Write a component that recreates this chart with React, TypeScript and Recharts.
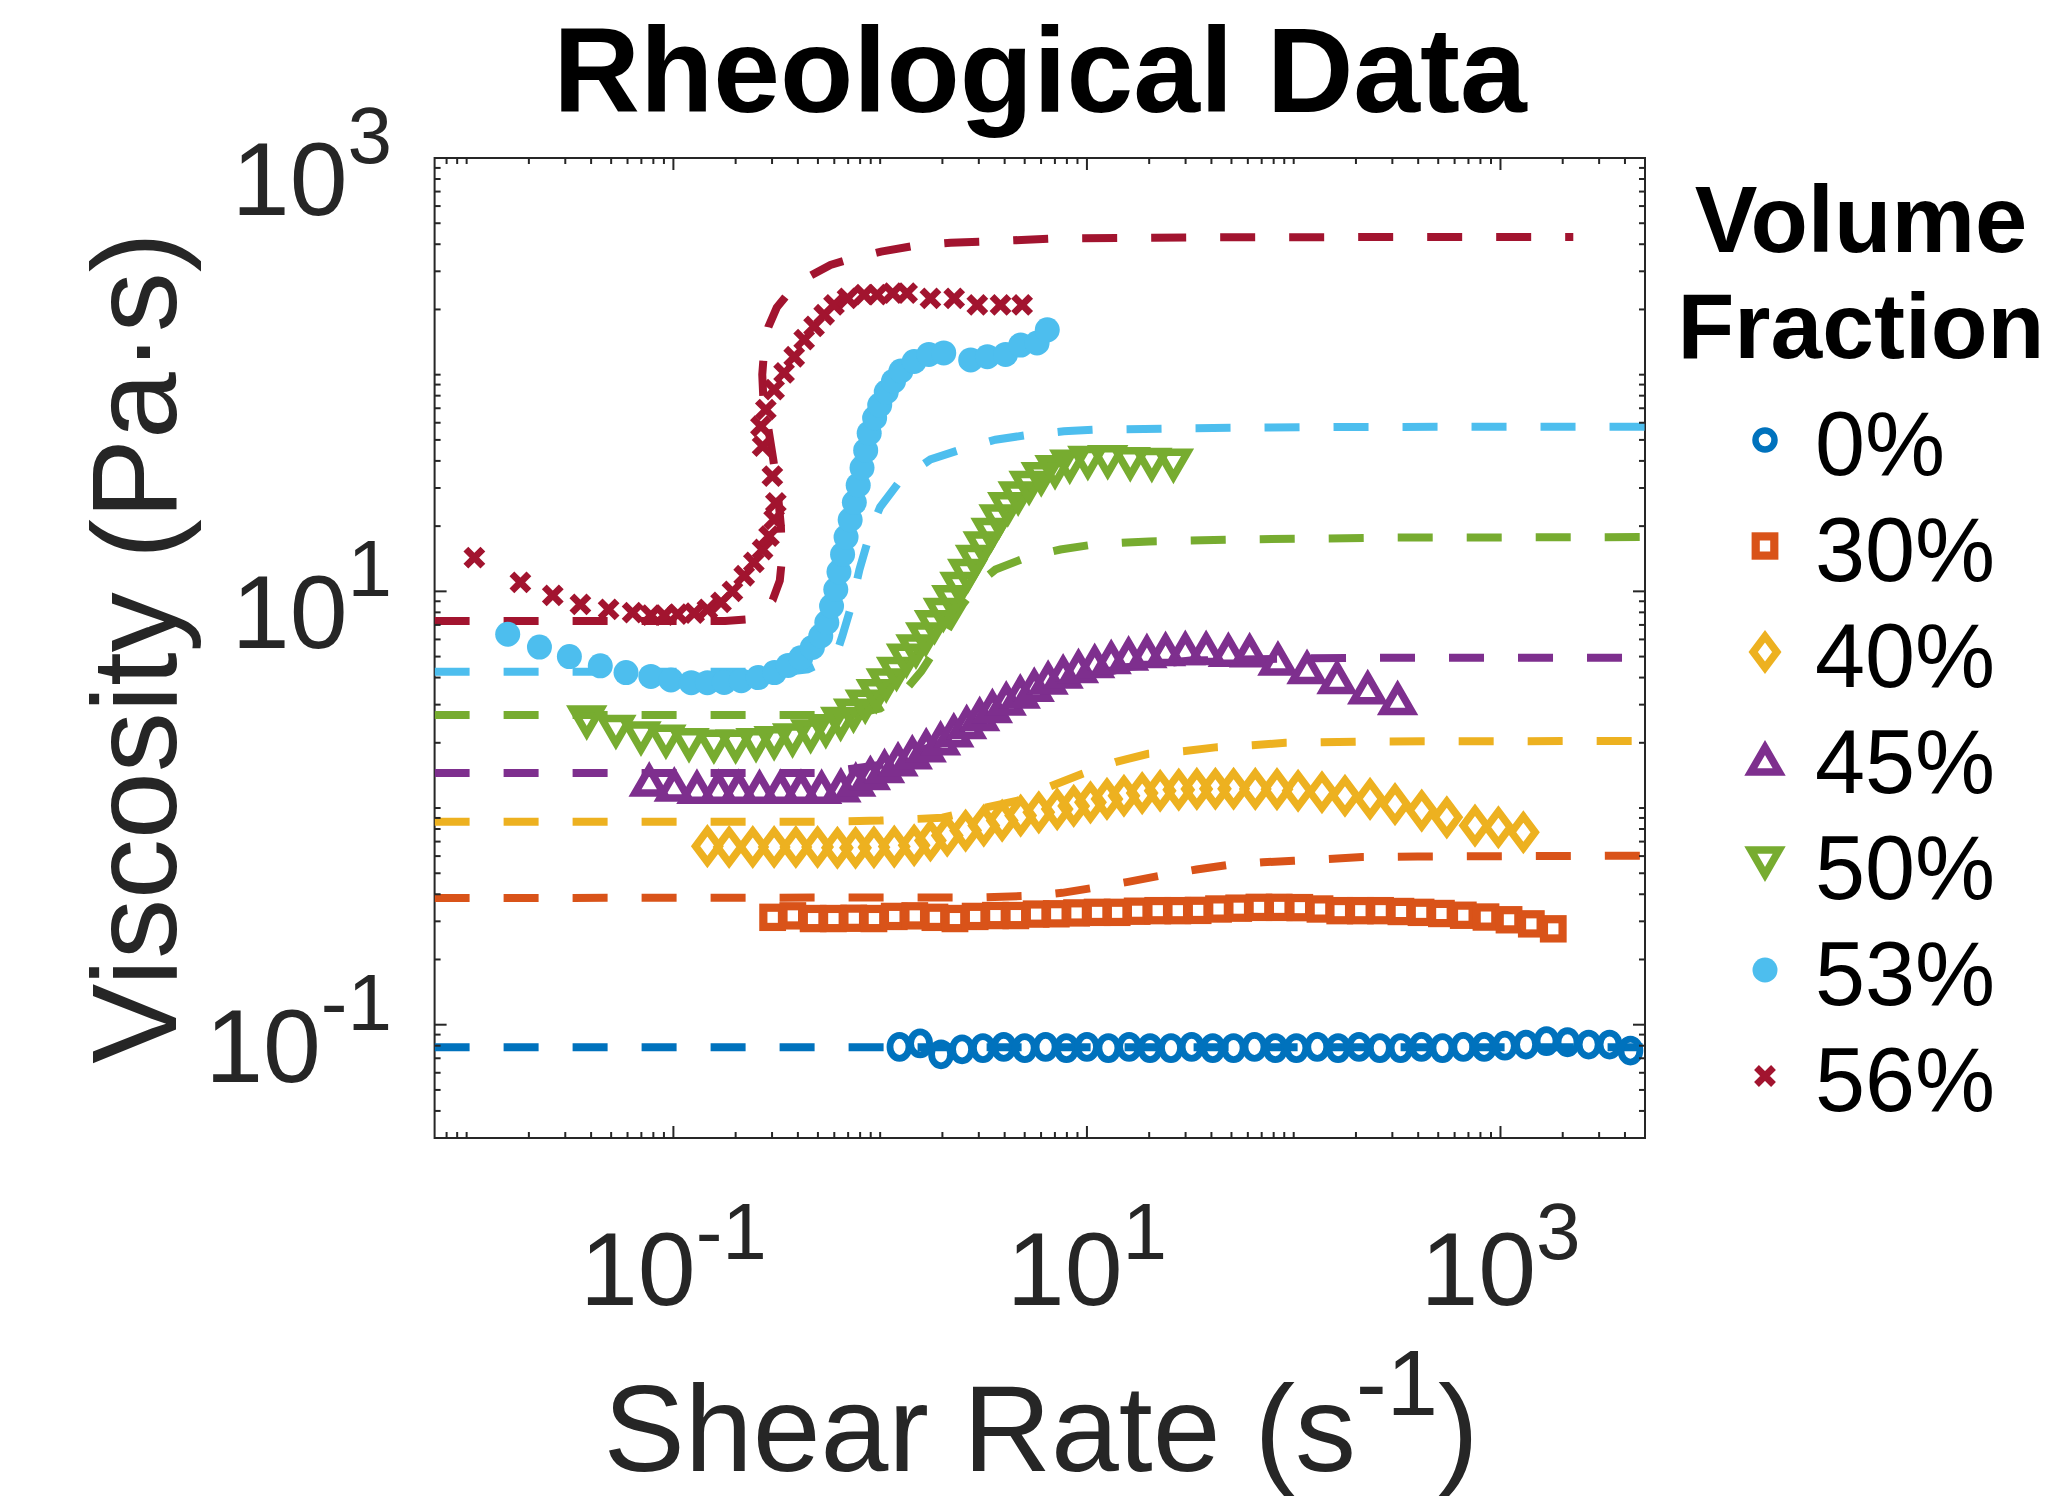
import React from 'react';
import { ComposedChart, XAxis, YAxis, Scatter, Line, ReferenceArea, Customized } from 'recharts';

const CHART_W = 2047;
const CHART_H = 1506;
const PLOT = { left: 434.6, right: 1645, top: 158, bottom: 1138 };
const FONT = '"Liberation Sans", Arial, Helvetica, sans-serif';
const INK = '#262626';

const categories = ['0%', '30%', '40%', '45%', '50%', '53%', '56%'];
const colors = ['#0072BD', '#D95319', '#EDB120', '#7E2F8E', '#77AC30', '#4DBEEE', '#A2142F'];
const markerKinds = ['o', 's', 'd', '^', 'v', '.', 'x'];

// ---- measured data (shear rate, viscosity) ----
const rate0 = [1.24, 1.56, 1.97, 2.49, 3.14, 3.96, 5.0, 6.31, 7.96, 10.0, 12.7, 16.0, 20.2, 25.5, 32.1, 40.6, 51.2, 64.6, 81.5, 103, 130, 164, 207, 261, 329, 415, 524, 661, 834, 1050, 1330, 1670, 2110, 2670, 3370, 4250];
const visc0 = [0.079, 0.082, 0.073, 0.077, 0.078, 0.079, 0.078, 0.079, 0.078, 0.079, 0.078, 0.079, 0.078, 0.078, 0.079, 0.078, 0.078, 0.079, 0.078, 0.078, 0.079, 0.078, 0.079, 0.078, 0.078, 0.079, 0.078, 0.079, 0.079, 0.080, 0.081, 0.084, 0.083, 0.081, 0.081, 0.076];

const rate30 = [0.302, 0.378, 0.474, 0.594, 0.745, 0.933, 1.17, 1.47, 1.84, 2.30, 2.88, 3.61, 4.53, 5.68, 7.11, 8.91, 11.2, 14.0, 17.5, 22.0, 27.5, 34.5, 43.3, 54.2, 67.9, 85.1, 107, 134, 167, 210, 263, 330, 413, 518, 661, 851, 1100, 1410, 1800];
const visc30 = [0.313, 0.318, 0.309, 0.309, 0.310, 0.309, 0.316, 0.318, 0.313, 0.309, 0.316, 0.319, 0.319, 0.324, 0.325, 0.328, 0.330, 0.330, 0.334, 0.336, 0.336, 0.337, 0.342, 0.345, 0.348, 0.348, 0.347, 0.342, 0.336, 0.336, 0.336, 0.333, 0.330, 0.326, 0.320, 0.314, 0.305, 0.292, 0.277];

const rate40 = [0.146, 0.186, 0.242, 0.307, 0.391, 0.498, 0.621, 0.760, 0.933, 1.17, 1.46, 1.75, 2.11, 2.59, 3.17, 3.89, 4.78, 5.85, 7.18, 8.63, 10.4, 12.5, 15.1, 18.5, 22.6, 27.8, 34.0, 41.8, 51.2, 65.2, 83.0, 105, 137, 177, 234, 309, 416, 550, 753, 977, 1290];
const visc40 = [0.667, 0.661, 0.661, 0.661, 0.661, 0.661, 0.656, 0.656, 0.659, 0.664, 0.673, 0.708, 0.746, 0.787, 0.830, 0.875, 0.923, 0.955, 0.989, 1.023, 1.062, 1.102, 1.140, 1.172, 1.202, 1.216, 1.225, 1.227, 1.227, 1.225, 1.222, 1.202, 1.183, 1.140, 1.102, 1.042, 0.973, 0.906, 0.830, 0.815, 0.773];

const rate45 = [0.0764, 0.101, 0.130, 0.165, 0.207, 0.261, 0.329, 0.414, 0.521, 0.646, 0.762, 0.897, 1.05, 1.22, 1.43, 1.67, 1.96, 2.27, 2.62, 3.03, 3.49, 4.07, 4.76, 5.56, 6.49, 7.67, 9.10, 10.9, 13.1, 15.9, 19.5, 24.0, 29.9, 37.7, 48.3, 61.2, 83.9, 116, 162, 228, 318];
const visc45 = [1.36, 1.29, 1.26, 1.26, 1.26, 1.26, 1.26, 1.26, 1.26, 1.28, 1.36, 1.46, 1.57, 1.69, 1.82, 1.96, 2.11, 2.30, 2.51, 2.73, 2.97, 3.22, 3.47, 3.73, 4.02, 4.29, 4.55, 4.80, 5.01, 5.20, 5.33, 5.45, 5.51, 5.51, 5.41, 5.38, 4.93, 4.50, 4.05, 3.63, 3.24];

const rate50 = [0.0381, 0.0527, 0.0697, 0.0920, 0.119, 0.157, 0.200, 0.251, 0.307, 0.377, 0.461, 0.546, 0.644, 0.743, 0.847, 0.957, 1.07, 1.20, 1.34, 1.49, 1.66, 1.83, 2.02, 2.22, 2.43, 2.65, 2.89, 3.15, 3.44, 3.76, 4.14, 4.65, 5.25, 6.01, 7.01, 8.26, 10.1, 12.6, 16.2, 20.6, 26.2];
const visc50 = [2.47, 2.23, 2.08, 2.01, 1.94, 1.91, 1.91, 1.94, 1.98, 2.04, 2.13, 2.25, 2.43, 2.65, 2.92, 3.26, 3.66, 4.13, 4.76, 5.25, 5.96, 6.79, 7.73, 8.87, 10.2, 11.7, 13.6, 15.7, 18.1, 20.9, 23.8, 26.7, 29.8, 32.7, 35.3, 37.4, 38.9, 39.2, 38.4, 38.1, 37.8];

const rate53 = [0.0158, 0.0225, 0.0314, 0.0443, 0.0590, 0.0778, 0.0973, 0.122, 0.146, 0.176, 0.213, 0.257, 0.308, 0.359, 0.413, 0.470, 0.516, 0.552, 0.582, 0.610, 0.632, 0.658, 0.684, 0.716, 0.750, 0.783, 0.817, 0.851, 0.885, 0.940, 0.995, 1.07, 1.16, 1.26, 1.46, 1.72, 2.03, 2.74, 3.30, 4.04, 4.78, 5.74, 6.43];
const visc53 = [6.34, 5.53, 5.00, 4.53, 4.22, 4.05, 3.90, 3.79, 3.79, 3.80, 3.87, 4.00, 4.22, 4.55, 4.94, 5.51, 6.22, 7.18, 8.55, 10.2, 12.3, 14.8, 17.8, 21.4, 25.7, 30.9, 37.2, 44.7, 53.7, 63.1, 72.4, 83.2, 93.3, 104, 115, 124, 126, 117, 121, 124, 137, 140, 161];

const rate56 = [0.0109, 0.0182, 0.0261, 0.0355, 0.0486, 0.0635, 0.0778, 0.0904, 0.105, 0.126, 0.146, 0.170, 0.193, 0.220, 0.245, 0.270, 0.290, 0.307, 0.313, 0.301, 0.270, 0.265, 0.280, 0.307, 0.343, 0.384, 0.429, 0.479, 0.536, 0.598, 0.695, 0.836, 0.968, 1.15, 1.35, 1.75, 2.28, 2.95, 3.82, 4.86];
const visc56 = [14.3, 11.0, 9.59, 8.71, 8.26, 7.98, 7.76, 7.76, 7.85, 7.94, 8.26, 8.89, 10.0, 11.8, 13.6, 15.6, 18.0, 21.5, 25.6, 34.0, 46.8, 57.8, 69.0, 85.3, 102, 121, 145, 167, 189, 210, 225, 234, 234, 238, 238, 225, 225, 210, 210, 210];

// ---- model fits (dashed) ----
const fitRate0 = [0.007, 5000];
const fitVisc0 = [0.0787, 0.0787];

const fitRate30 = [0.007, 3.16, 5.62, 7.59, 10.7, 15.8, 22.4, 33.9, 49.0, 70.8, 100, 148, 214, 398, 5000];
const fitVisc30 = [0.384, 0.387, 0.394, 0.406, 0.428, 0.456, 0.486, 0.520, 0.547, 0.562, 0.571, 0.582, 0.594, 0.597, 0.603];

const fitRate40 = [0.007, 0.501, 1.0, 2.0, 3.31, 4.62, 6.67, 9.51, 13.7, 19.8, 29.2, 42.7, 63.1, 91.2, 251, 5000];
const fitVisc40 = [0.865, 0.865, 0.875, 0.902, 1.01, 1.08, 1.26, 1.44, 1.63, 1.78, 1.83, 1.91, 1.95, 2.00, 2.03, 2.04];

const fitRate45 = [0.007, 0.501, 1.0, 2.0, 3.98, 7.94, 15.8, 31.6, 100, 251, 5000];
const fitVisc45 = [1.45, 1.45, 1.58, 2.00, 2.82, 3.80, 4.47, 4.79, 4.90, 4.94, 4.94];

const fitRate50 = [0.007, 0.501, 0.794, 1.0, 1.26, 1.58, 2.0, 2.51, 3.02, 3.61, 5.16, 7.45, 11.0, 20.0, 63.1, 316, 5000];
const fitVisc50 = [2.69, 2.69, 2.75, 2.88, 3.31, 4.27, 6.03, 8.71, 11.0, 12.6, 14.4, 15.6, 16.5, 17.0, 17.4, 17.7, 17.8];

const fitRate53 = [0.007, 0.355, 0.447, 0.525, 0.589, 0.631, 0.656, 0.721, 0.794, 0.871, 0.933, 1.0, 1.26, 1.75, 2.45, 3.61, 5.24, 7.73, 11.2, 31.6, 158, 5000];
const fitVisc53 = [4.25, 4.25, 4.37, 4.68, 5.13, 5.56, 6.22, 8.41, 12.6, 17.1, 20.9, 24.5, 32.8, 40.6, 45.1, 50.1, 52.8, 54.8, 55.8, 56.6, 57.4, 57.5];

const fitRate56 = [0.007, 0.178, 0.224, 0.263, 0.302, 0.327, 0.335, 0.331, 0.320, 0.305, 0.288, 0.272, 0.269, 0.274, 0.288, 0.316, 0.363, 0.447, 0.575, 0.695, 1.01, 1.48, 2.19, 3.16, 6.92, 31.6, 316, 2250];
const fitVisc56 = [7.29, 7.29, 7.41, 7.94, 9.12, 11.2, 14.1, 20.0, 28.2, 39.8, 56.2, 79.4, 100, 126, 166, 204, 240, 282, 321, 339, 370, 394, 406, 411, 425, 430, 432, 432];

// ---- axis ticks ----
const xTickValues = [0.008, 0.009, 0.01, 0.02, 0.03, 0.04, 0.05, 0.06, 0.07, 0.08, 0.09, 0.1, 0.2, 0.3, 0.4, 0.5, 0.6, 0.7, 0.8, 0.9, 1, 2, 3, 4, 5, 6, 7, 8, 9, 10, 20, 30, 40, 50, 60, 70, 80, 90, 100, 200, 300, 400, 500, 600, 700, 800, 900, 1000, 2000, 3000, 4000];
const yTickValues = [0.04, 0.05, 0.06, 0.07, 0.08, 0.09, 0.1, 0.2, 0.3, 0.4, 0.5, 0.6, 0.7, 0.8, 0.9, 1, 2, 3, 4, 5, 6, 7, 8, 9, 10, 20, 30, 40, 50, 60, 70, 80, 90, 100, 200, 300, 400, 500, 600, 700, 800, 900, 1000];
const majorTicks = [0.1, 10, 1000];
const majorExponents = ['-1', '1', '3'];

const zip = (xs: number[], ys: number[]) => xs.map((x, i) => ({ x, y: ys[i] }));

const dataSets = [zip(rate0, visc0), zip(rate30, visc30), zip(rate40, visc40), zip(rate45, visc45), zip(rate50, visc50), zip(rate53, visc53), zip(rate56, visc56)];
const fitSets = [zip(fitRate0, fitVisc0), zip(fitRate30, fitVisc30), zip(fitRate40, fitVisc40), zip(fitRate45, fitVisc45), zip(fitRate50, fitVisc50), zip(fitRate53, fitVisc53), zip(fitRate56, fitVisc56)];

function Marker({ kind, cx, cy, color, legend }: { kind: string; cx: number; cy: number; color: string; legend?: boolean }) {
  if (cx == null || cy == null || isNaN(cx) || isNaN(cy)) return null;
  switch (kind) {
    case 'o':
      return legend
        ? <circle cx={cx} cy={cy} r={9.5} fill="none" stroke={color} strokeWidth={6.5} />
        : <ellipse cx={cx} cy={cy} rx={9.5} ry={11.5} fill="none" stroke={color} strokeWidth={6.8} />;
    case 's':
      return <rect x={cx - 9.3} y={cy - 9.6} width={18.6} height={19.2} fill="none" stroke={color} strokeWidth={8.2} />;
    case 'd':
      return <path d={`M${cx},${cy - 15.8}L${cx + 11.8},${cy}L${cx},${cy + 15.8}L${cx - 11.8},${cy}Z`} fill="none" stroke={color} strokeWidth={7.5} strokeLinejoin="miter" />;
    case '^':
      return <path d={`M${cx},${cy - 10.5}L${cx + 14.2},${cy + 14}L${cx - 14.2},${cy + 14}Z`} fill="none" stroke={color} strokeWidth={7.5} strokeLinejoin="miter" />;
    case 'v':
      return <path d={`M${cx},${cy + 10.5}L${cx + 14.2},${cy - 14}L${cx - 14.2},${cy - 14}Z`} fill="none" stroke={color} strokeWidth={7.5} strokeLinejoin="miter" />;
    case '.':
      return <circle cx={cx} cy={cy} r={12.5} fill={color} />;
    case 'x':
      return <path d={`M${cx - 8.5},${cy - 8.5}L${cx + 8.5},${cy + 8.5}M${cx - 8.5},${cy + 8.5}L${cx + 8.5},${cy - 8.5}`} stroke={color} strokeWidth={6.8} fill="none" />;
    default:
      return null;
  }
}

function XTick(props: any) {
  const { x, payload } = props;
  const v = payload.value;
  const mi = majorTicks.indexOf(v);
  const len = mi >= 0 ? 12 : 6;
  return (
    <g>
      <line x1={x} x2={x} y1={PLOT.bottom} y2={PLOT.bottom - len} stroke={INK} strokeWidth={2} />
      <line x1={x} x2={x} y1={PLOT.top} y2={PLOT.top + len} stroke={INK} strokeWidth={2} />
      {mi >= 0 && (
        <text x={x} y={1305} textAnchor="middle" fontFamily={FONT} fontSize={104} fill={INK}>
          10<tspan dy={-46} fontSize={80}>{majorExponents[mi]}</tspan>
        </text>
      )}
    </g>
  );
}

function YTick(props: any) {
  const { y, payload } = props;
  const v = payload.value;
  const mi = majorTicks.indexOf(v);
  const len = mi >= 0 ? 12 : 6;
  return (
    <g>
      <line x1={PLOT.left} x2={PLOT.left + len} y1={y} y2={y} stroke={INK} strokeWidth={2} />
      <line x1={PLOT.right} x2={PLOT.right - len} y1={y} y2={y} stroke={INK} strokeWidth={2} />
      {mi >= 0 && (
        <text x={392} y={y + 57} textAnchor="end" fontFamily={FONT} fontSize={104} fill={INK}>
          10<tspan dy={-52} fontSize={80}>{majorExponents[mi]}</tspan>
        </text>
      )}
    </g>
  );
}

function Annotations() {
  const legendTop = 440;
  const legendStep = 106;
  return (
    <g fontFamily={FONT}>
      <text x={1040} y={112} textAnchor="middle" fontSize={120} fontWeight="bold" fill="#000">
        Rheological Data
      </text>
      <text transform="translate(176,648) rotate(-90)" textAnchor="middle" fontSize={120} fill={INK}>
        Viscosity (Pa·s)
      </text>
      <text x={1041} y={1471} textAnchor="middle" fontSize={122} fill={INK}>
        Shear Rate (s<tspan dy={-56} fontSize={92}>-1</tspan><tspan dy={56}>)</tspan>
      </text>
      <text x={1861} y={252} textAnchor="middle" fontSize={94} fontWeight="bold" fill="#000">Volume</text>
      <text x={1861} y={358} textAnchor="middle" fontSize={93} fontWeight="bold" fill="#000">Fraction</text>
      {categories.map((c, i) => (
        <g key={c}>
          <Marker kind={markerKinds[i]} cx={1765} cy={legendTop + i * legendStep} color={colors[i]} legend />
          <text x={1815} y={legendTop + i * legendStep + 35} fontSize={90} fill="#000">{c}</text>
        </g>
      ))}
    </g>
  );
}

export default function App() {
  return (
    <div style={{ position: 'absolute', left: 0, top: 0, width: CHART_W, height: CHART_H, background: '#fff' }}>
      <ComposedChart width={CHART_W} height={CHART_H} margin={{ top: PLOT.top, right: CHART_W - PLOT.right, bottom: 0, left: 0 }}>
        <XAxis
          dataKey="x"
          type="number"
          scale="log"
          domain={[0.007, 5000]}
          allowDataOverflow
          ticks={xTickValues}
          interval={0}
          tick={(p: any) => <XTick {...p} />}
          tickLine={false}
          axisLine={false}
          height={CHART_H - PLOT.bottom}
        />
        <YAxis
          dataKey="y"
          type="number"
          scale="log"
          domain={[0.03, 1000]}
          allowDataOverflow
          ticks={yTickValues}
          interval={0}
          tick={(p: any) => <YTick {...p} />}
          tickLine={false}
          axisLine={false}
          width={PLOT.left}
        />
        <ReferenceArea x1={0.007} x2={5000} y1={0.03} y2={1000} fill="none" stroke={INK} strokeWidth={2} />
        {dataSets.map((d, i) => (
          <Scatter
            key={'s' + i}
            name={categories[i]}
            data={d}
            fill={colors[i]}
            isAnimationActive={false}
            shape={(p: any) => <Marker kind={markerKinds[i]} cx={p.cx} cy={p.cy} color={colors[i]} />}
          />
        ))}
        {fitSets.map((d, i) => (
          <Line
            key={'f' + i}
            data={d}
            dataKey="y"
            type="linear"
            stroke={colors[i]}
            strokeWidth={8}
            strokeDasharray="35 34"
            dot={false}
            activeDot={false}
            isAnimationActive={false}
          />
        ))}
        <Customized component={Annotations} />
      </ComposedChart>
    </div>
  );
}
